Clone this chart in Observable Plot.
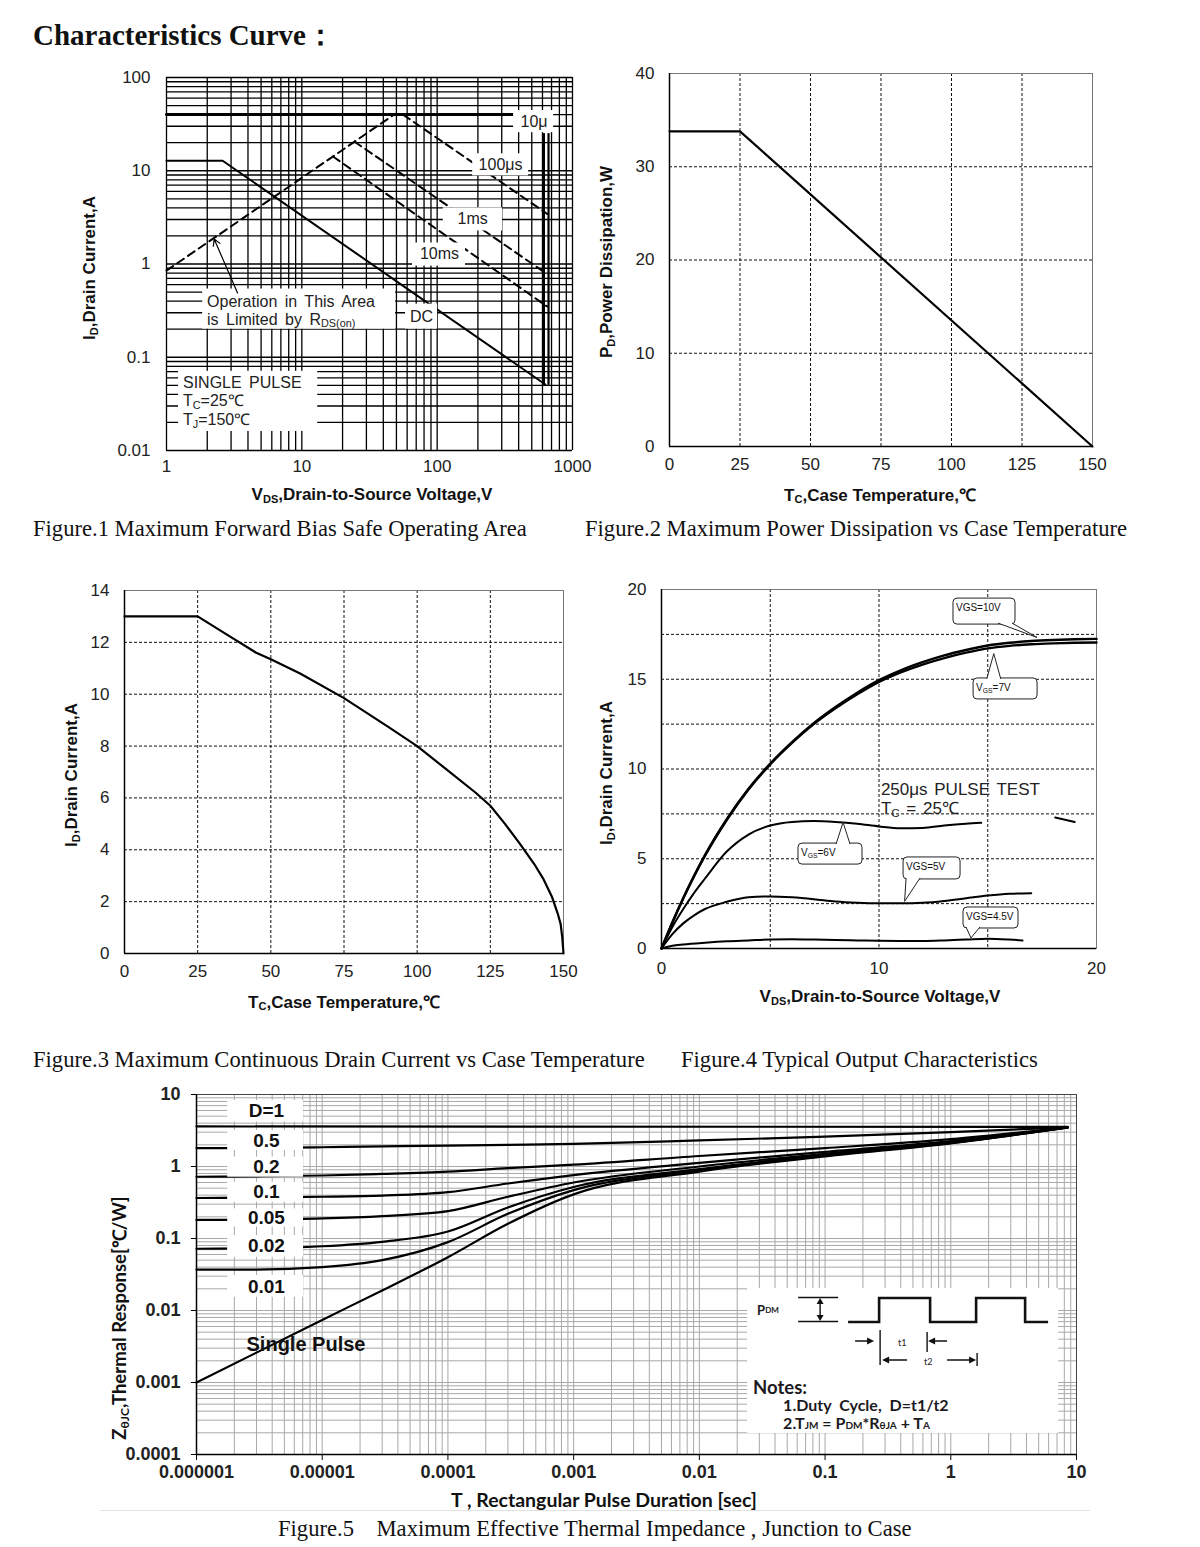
<!DOCTYPE html>
<html><head><meta charset="utf-8">
<script src="https://cdn.jsdelivr.net/npm/d3@7"></script>
<script src="https://cdn.jsdelivr.net/npm/@observablehq/plot@0.6"></script>
<style>
body{margin:0;background:#fff;}
#page{position:relative;width:1200px;height:1547px;overflow:hidden;background:#fff;font-family:"Liberation Sans",Arial,sans-serif;color:#111;}
.abs{position:absolute;white-space:nowrap;line-height:1;}
.title{left:33px;top:16px;font:bold 29px "Liberation Serif","Times New Roman",serif;}
.cap{font:22.6px "Liberation Serif","Times New Roman",serif;white-space:pre;}
.at{font:bold 17px "Liberation Sans",Arial,sans-serif;transform:translate(-50%,-50%);}
.atr{font:bold 17px "Liberation Sans",Arial,sans-serif;transform:translate(-50%,-50%) rotate(-90deg);}
.at5{font:bold 19.5px Lato,"Liberation Sans",sans-serif;transform:translate(-50%,-50%);}
.atr5{font:bold 18.5px Lato,"Liberation Sans",sans-serif;transform:translate(-50%,-50%) rotate(-90deg);}
sub{font-size:0.65em;vertical-align:-0.25em;line-height:0;}
</style></head>
<body><div id="page">
<div class="abs title">Characteristics Curve：</div>
<div class="abs cap" style="left:33px;top:516px">Figure.1 Maximum Forward Bias Safe Operating Area</div>
<div class="abs cap" style="left:585px;top:516px">Figure.2 Maximum Power Dissipation vs Case Temperature</div>
<div class="abs cap" style="left:33px;top:1047px">Figure.3 Maximum Continuous Drain Current vs Case Temperature</div>
<div class="abs cap" style="left:681px;top:1047px">Figure.4 Typical Output Characteristics</div>
<div class="abs cap" style="left:278px;top:1516px">Figure.5    Maximum Effective Thermal Impedance , Junction to Case</div>
<div class="abs at" style="left:372px;top:495px">V<sub>DS</sub>,Drain-to-Source Voltage,V</div>
<div class="abs atr" style="left:90px;top:268px">I<sub>D</sub>,Drain Current,A</div>
<div class="abs at" style="left:880px;top:494px">T<sub>C</sub>,Case Temperature,℃</div>
<div class="abs atr" style="left:607px;top:262px">P<sub>D</sub>,Power Dissipation,W</div>
<div class="abs at" style="left:344px;top:1001px">T<sub>C</sub>,Case Temperature,℃</div>
<div class="abs atr" style="left:72px;top:775px">I<sub>D</sub>,Drain Current,A</div>
<div class="abs at" style="left:880px;top:997px">V<sub>DS</sub>,Drain-to-Source Voltage,V</div>
<div class="abs atr" style="left:607px;top:773px">I<sub>D</sub>,Drain Current,A</div>
<div class="abs at5" style="left:604px;top:1499px">T , Rectangular Pulse Duration [sec]</div>
<div class="abs atr5" style="left:118px;top:1318px">Z<sub>θJC</sub>,Thermal Response[℃/W]</div>
<div class="abs" style="left:100px;top:1510px;width:990px;height:1px;background:#e2e2e2"></div>
</div>
<script>
// ---------------- DATA ----------------
// Fig.1 Safe operating area (VDS in V, ID in A)
const soaDC    = [{v:1, i:12.8}, {v:2.6, i:12.8}, {v:630, i:0.051}];
const soaRds   = [{v:1, i:0.85}, {v:48, i:40}, {v:56, i:40}];
const soa100us = [{v:56, i:40}, {v:650, i:3.45}];
const soa1ms   = [{v:24.5, i:20.5}, {v:650, i:0.78}];
const soa10ms  = [{v:17, i:14.2}, {v:650, i:0.35}];
const soa10us  = [{v:1, i:40}, {v:650, i:40}];
const soaVmax  = [{v:615, lo:0.05, hi:25}, {v:665, lo:0.05, hi:25}];
const soaXTicks = [1, 10, 100, 1000];
const soaYTicks = [0.01, 0.1, 1, 10, 100];
const soaTags = [
  {t:"10μ", v:520, i:33.7}, {t:"100μs", v:294, i:11.6}, {t:"1ms", v:183, i:3.05},
  {t:"10ms", v:104, i:1.28}, {t:"DC", v:76.7, i:0.269}
];
const soaTagBoxes = [
  {x1:367, x2:725, y1:25.6, y2:44.2}, {x1:183, x2:474, y1:8.8, y2:15.2},
  {x1:111, x2:304, y1:2.26, y2:4.0}, {x1:65.8, x2:162, y1:0.95, y2:1.68},
  {x1:58.4, x2:100.7, y1:0.2, y2:0.371}, {x1:1.85, x2:49.3, y1:0.2, y2:0.539},
  {x1:1.227, x2:13.1, y1:0.016, y2:0.0707}
];
const soaNotes = [
  {parts:[["Operation in This Area"]], v:2.01, i:0.40},
  {parts:[["is Limited by R"],["DS(on)","sub"]], v:2.01, i:0.256},
  {parts:[["SINGLE PULSE"]], v:1.335, i:0.0538},
  {parts:[["T"],["C","sub"],["=25℃"]], v:1.335, i:0.0345},
  {parts:[["T"],["J","sub"],["=150℃"]], v:1.335, i:0.0216}
];
const soaArrow = [{x1:3.35, y1:0.49, x2:2.25, y2:1.85}];

// Fig.2 Power dissipation
const pdTemp = [0, 25, 150];
const pdWatt = [33.8, 33.8, 0];
const tempTicks = [0, 25, 50, 75, 100, 125, 150];
const pdTicks = [0, 10, 20, 30, 40];

// Fig.3 Continuous drain current
const idTemp = [0,25,35,45,50,60,75,90,100,110,120,125,130,135,140,143,146,148,149,149.6,150];
const idAmp  = [13,13,12.3,11.6,11.35,10.8,9.85,8.75,8.0,7.1,6.2,5.7,5.0,4.25,3.45,2.9,2.2,1.55,1.15,0.6,0];
const idTicks = [0, 2, 4, 6, 8, 10, 12, 14];

// Fig.4 Output characteristics
const vds10 = [0,0.5,1,1.5,2,3,4,5,6,7,8,9,10,11,12,13,14,15,16,17,18,19,20];
const id10V = [0,1.45,2.8,4.05,5.2,7.2,8.9,10.3,11.5,12.55,13.45,14.25,14.95,15.5,15.95,16.33,16.63,16.88,17.03,17.13,17.19,17.23,17.25];
const id7V  = [0,1.45,2.8,4.03,5.17,7.16,8.86,10.26,11.45,12.5,13.38,14.16,14.85,15.38,15.82,16.18,16.48,16.72,16.86,16.95,17.0,17.03,17.05];
const vds6  = [0,0.5,1,1.5,2,3,4,5,6,7,8,9,10,11,12,13,14,14.7];
const id6V  = [0,1.2,2.2,3.1,3.9,5.4,6.35,6.85,7.05,7.1,7.05,6.95,6.8,6.7,6.72,6.85,6.95,7.0];
const vds5  = [0,0.5,1,1.5,2,3,4,5,6,7,8,9,10,11,12,13,14,15,16,17];
const id5V  = [0,0.8,1.4,1.85,2.2,2.6,2.85,2.9,2.85,2.75,2.62,2.55,2.52,2.52,2.55,2.65,2.8,2.95,3.05,3.08];
const vds45 = [0,0.5,1,2,3,4,5,6,7,8,9,10,11,12,13,14,15,16,16.6];
const id45V = [0,0.15,0.22,0.32,0.4,0.45,0.5,0.52,0.5,0.47,0.45,0.43,0.42,0.42,0.45,0.5,0.55,0.5,0.45];
const strayV = [18.1, 19.0];
const strayI = [7.3, 7.05];
const vdsTicks = [0, 10, 20];
const id4Ticks = [0, 5, 10, 15, 20];
const callouts = [
  {label:[["VGS=10V"]], x:14.85, y:18.77, tx:17.29, ty:17.3, w:62, h:26},
  {label:[["V"],["GS","sub"],["=7V"]], x:15.82, y:14.46, tx:15.3, ty:16.4, w:64, h:21},
  {label:[["V"],["GS","sub"],["=6V"]], x:7.77, y:5.26, tx:8.37, ty:7.0, w:64, h:21},
  {label:[["VGS=5V"]], x:12.44, y:4.46, tx:11.2, ty:2.6, w:57, h:22},
  {label:[["VGS=4.5V"]], x:15.15, y:1.70, tx:14.25, ty:0.56, w:55, h:21}
];
const pulseNotes = [
  {parts:[["250μs PULSE TEST"]], v:10.11, i:8.86},
  {parts:[["T"],["C","sub"],[" = 25℃"]], v:10.11, i:7.8}
];

// Fig.5 Transient thermal impedance
const pulseT  = [1e-6, 3e-6, 1e-5, 3e-5, 1e-4, 3e-4, 1e-3, 1e-2, 1e-1, 1, 8.5];
const zD05    = [1.8, 1.81, 1.85, 1.9, 1.95, 2.0, 2.06, 2.3, 2.6, 3.0, 3.5];
const zD02    = [0.72, 0.73, 0.75, 0.79, 0.85, 0.95, 1.06, 1.4, 1.8, 2.4, 3.5];
const zD01    = [0.365, 0.37, 0.38, 0.395, 0.44, 0.58, 0.76, 1.12, 1.6, 2.25, 3.5];
const zD005   = [0.181, 0.183, 0.19, 0.205, 0.24, 0.38, 0.6, 1.0, 1.5, 2.2, 3.5];
const zD002   = [0.072, 0.073, 0.078, 0.09, 0.125, 0.27, 0.52, 0.92, 1.45, 2.15, 3.5];
const zD001   = [0.037, 0.037, 0.04, 0.05, 0.089, 0.22, 0.47, 0.88, 1.42, 2.12, 3.5];
const zSingle = [0.001, 0.0026, 0.0074, 0.019, 0.055, 0.16, 0.41, 0.85, 1.38, 2.1, 3.5];
const zD1T = [1e-6, 8.5];
const zD1  = [3.6, 3.55];
const tTicks = [1e-6, 1e-5, 1e-4, 1e-3, 1e-2, 1e-1, 1, 10];
const zTicks = [1e-4, 1e-3, 1e-2, 0.1, 1, 10];
const dutyTags = [
  {t:"D=1", z:5.84}, {t:"0.5", z:2.3}, {t:"0.2", z:0.98}, {t:"0.1", z:0.44},
  {t:"0.05", z:0.193}, {t:"0.02", z:0.078}, {t:"0.01", z:0.0216}
];
const dutyBoxes = [
  {y1:4.13, y2:8.25}, {y1:1.67, y2:3.16}, {y1:0.71, y2:1.35}, {y1:0.319, y2:0.605},
  {y1:0.144, y2:0.258}, {y1:0.055, y2:0.11}, {y1:0.0153, y2:0.0306}
];
const dutyTagX = 3.6e-6, dutyBoxX = [1.77e-6, 7.1e-6];
const singleTag = {t:"Single Pulse", x:2.5e-6, z:0.00337};
const notesBox = {x1:0.0242, x2:7.2, y1:0.000196, y2:0.0202};

// ---------------- HELPERS ----------------
const FONT = "'Liberation Sans', Arial, sans-serif";
const page = document.getElementById("page");
const baseStyle = {fontFamily: FONT, fontSize: "17px", color: "#222", background: "transparent", overflow: "visible"};
function logGrid(lo, hi) {
  const out = [];
  for (let e = Math.round(Math.log10(lo)); e < Math.round(Math.log10(hi)); e++)
    for (let m = 1; m < 10; m++) out.push(+(m * Math.pow(10, e)).toPrecision(6));
  out.push(hi);
  return out;
}
function place(svg, left, top) {
  svg.style.position = "absolute"; svg.style.left = left + "px"; svg.style.top = top + "px";
  page.appendChild(svg); return svg;
}
function zip(xs, ys, name) { return xs.map((x, k) => ({x, y: ys[k], s: name})); }
function rich(svg, plot, xv, yv, parts, o = {}) {
  const size = o.size || 15;
  const t = d3.select(svg).append("text")
    .attr("x", plot.scale("x").apply(xv) + (o.dx || 0))
    .attr("y", plot.scale("y").apply(yv) + (o.dy || 0))
    .attr("font-size", size).attr("fill", o.fill || "#222")
    .attr("font-weight", o.weight || "normal")
    .attr("font-family", o.family || FONT)
    .attr("text-anchor", o.anchor || "start")
    .attr("dominant-baseline", "central");
  if (o.ws) t.style("word-spacing", o.ws);
  let shifted = false;
  for (const [s, kind] of parts) {
    const sp = t.append("tspan").text(s);
    if (kind === "sub") {
      sp.attr("font-size", size * 0.68);
      if (!shifted) { sp.attr("dy", size * 0.3); shifted = true; }
    } else if (shifted) { sp.attr("dy", -size * 0.3); shifted = false; }
  }
  return t;
}
const dashGrid = {stroke: "#111", strokeWidth: 1, strokeDasharray: "3,2"};
const ax = (o) => ({label: null, tickSize: 0, fontSize: 17, ...o});

// ---------------- FIG 1 ----------------
const fig1 = place(Plot.plot({
  width: 540, height: 460, marginLeft: 106, marginRight: 28, marginTop: 22, marginBottom: 65,
  style: baseStyle,
  x: {type: "log", domain: [1, 1000], label: null},
  y: {type: "log", domain: [0.01, 100], label: null},
  marks: [
    Plot.ruleX(logGrid(1, 1000), {stroke: "#000", strokeWidth: 1.3}),
    Plot.ruleY(logGrid(0.01, 100), {stroke: "#000", strokeWidth: 1.3}),
    Plot.line(soa10us, {x: "v", y: "i", stroke: "#000", strokeWidth: 3}),
    Plot.line(soaDC, {x: "v", y: "i", stroke: "#000", strokeWidth: 2}),
    Plot.line(soaRds, {x: "v", y: "i", stroke: "#000", strokeWidth: 2, strokeDasharray: "8,5"}),
    Plot.line(soa100us, {x: "v", y: "i", stroke: "#000", strokeWidth: 2, strokeDasharray: "8,5"}),
    Plot.line(soa1ms, {x: "v", y: "i", stroke: "#000", strokeWidth: 2, strokeDasharray: "8,5"}),
    Plot.line(soa10ms, {x: "v", y: "i", stroke: "#000", strokeWidth: 2, strokeDasharray: "8,5"}),
    Plot.ruleX(soaVmax, {x: "v", y1: "lo", y2: "hi", stroke: "#000", strokeWidth: 2.2}),
    Plot.rect(soaTagBoxes, {x1: "x1", x2: "x2", y1: "y1", y2: "y2", fill: "white"}),
    Plot.text(soaTags, {x: "v", y: "i", text: "t", fontSize: 16, fill: "#222"}),
    Plot.arrow(soaArrow, {x1: "x1", y1: "y1", x2: "x2", y2: "y2", stroke: "#000", strokeWidth: 1.2, headLength: 9}),
    Plot.axisX(ax({ticks: soaXTicks, tickPadding: 9, tickFormat: d => String(d)})),
    Plot.axisY(ax({ticks: soaYTicks, tickPadding: 16, tickFormat: d => String(d)}))
  ]
}), 60, 55);
for (const n of soaNotes) rich(fig1, fig1, n.v, n.i, n.parts, {size: 16, ws: "3px"});

// ---------------- FIG 2 ----------------
place(Plot.plot({
  width: 540, height: 460, marginLeft: 79, marginRight: 38, marginTop: 18, marginBottom: 69,
  style: baseStyle,
  x: {domain: [0, 150], label: null}, y: {domain: [0, 40], label: null},
  marks: [
    Plot.ruleX([25, 50, 75, 100, 125], dashGrid),
    Plot.ruleY([10, 20, 30], dashGrid),
    Plot.frame({stroke: "#777"}),
    Plot.ruleX([0], {stroke: "#000", strokeWidth: 1.5}),
    Plot.ruleY([0], {stroke: "#000", strokeWidth: 1.5}),
    Plot.line(zip(pdTemp, pdWatt, "pd"), {x: "x", y: "y", stroke: "#000", strokeWidth: 2.2}),
    Plot.axisX(ax({ticks: tempTicks, tickPadding: 11})),
    Plot.axisY(ax({ticks: pdTicks, tickPadding: 15}))
  ]
}), 590, 55);

// ---------------- FIG 3 ----------------
place(Plot.plot({
  width: 560, height: 460, marginLeft: 84, marginRight: 37, marginTop: 20, marginBottom: 77,
  style: baseStyle,
  x: {domain: [0, 150], label: null}, y: {domain: [0, 14], label: null},
  marks: [
    Plot.ruleX([25, 50, 75, 100, 125], dashGrid),
    Plot.ruleY([2, 4, 6, 8, 10, 12], dashGrid),
    Plot.frame({stroke: "#777"}),
    Plot.ruleX([0], {stroke: "#000", strokeWidth: 1.5}),
    Plot.ruleY([0], {stroke: "#000", strokeWidth: 1.5}),
    Plot.line(zip(idTemp, idAmp, "id"), {x: "x", y: "y", stroke: "#000", strokeWidth: 2.2}),
    Plot.axisX(ax({ticks: tempTicks, tickPadding: 11})),
    Plot.axisY(ax({ticks: idTicks, tickPadding: 15}))
  ]
}), 40, 570);

// ---------------- FIG 4 ----------------
const fig4 = place(Plot.plot({
  width: 540, height: 460, marginLeft: 61, marginRight: 44, marginTop: 19, marginBottom: 82,
  style: baseStyle,
  x: {domain: [0, 20], label: null}, y: {domain: [0, 20], label: null},
  marks: [
    Plot.ruleX([5, 10, 15], dashGrid),
    Plot.ruleY([2.5, 5, 7.5, 10, 12.5, 15, 17.5], dashGrid),
    Plot.frame({stroke: "#777"}),
    Plot.ruleX([0], {stroke: "#000", strokeWidth: 1.5}),
    Plot.ruleY([0], {stroke: "#000", strokeWidth: 1.5}),
    Plot.line([...zip(vds10, id10V, "10V"), ...zip(vds10, id7V, "7V")], {x: "x", y: "y", z: "s", stroke: "#000", strokeWidth: 2.4, curve: "monotone-x"}),
    Plot.line([...zip(vds6, id6V, "6V"), ...zip(vds5, id5V, "5V"), ...zip(vds45, id45V, "4.5V")], {x: "x", y: "y", z: "s", stroke: "#000", strokeWidth: 2, curve: "monotone-x"}),
    Plot.line(zip(strayV, strayI, "stray"), {x: "x", y: "y", stroke: "#000", strokeWidth: 2}),
    Plot.axisX(ax({ticks: vdsTicks, tickPadding: 13})),
    Plot.axisY(ax({ticks: id4Ticks, tickPadding: 15}))
  ]
}), 600, 570);
for (const c of callouts) {
  const sx = fig4.scale("x"), sy = fig4.scale("y");
  const cx = sx.apply(c.x), cy = sy.apply(c.y), x0 = cx - c.w / 2, y0 = cy - c.h / 2;
  const tx = sx.apply(c.tx), ty = sy.apply(c.ty);
  const g = d3.select(fig4).append("g");
  g.append("rect").attr("x", x0).attr("y", y0).attr("width", c.w).attr("height", c.h).attr("rx", 4)
    .attr("fill", "white").attr("stroke", "#222").attr("stroke-width", 1);
  const edgeY = ty < y0 ? y0 + 1 : y0 + c.h - 1;
  const bx = Math.max(x0 + 10, Math.min(x0 + c.w - 10, tx));
  g.append("path").attr("d", `M${bx - 7},${edgeY}L${tx},${ty}L${bx + 7},${edgeY}`)
    .attr("fill", "white").attr("stroke", "#222").attr("stroke-width", 1);
  rich(fig4, fig4, c.x, c.y, c.label, {size: 10, dx: -c.w / 2 + 3, dy: -c.h / 2 + 9, fill: "#111"});
}
for (const n of pulseNotes) rich(fig4, fig4, n.v, n.i, n.parts, {size: 17, fill: "#222", ws: "2px"});

// ---------------- FIG 5 ----------------
const zSeries = [
  ...zip(zD1T, zD1, "1"), ...zip(pulseT, zD05, "0.5"), ...zip(pulseT, zD02, "0.2"),
  ...zip(pulseT, zD01, "0.1"), ...zip(pulseT, zD005, "0.05"), ...zip(pulseT, zD002, "0.02"),
  ...zip(pulseT, zD001, "0.01"), ...zip(pulseT, zSingle, "single")
];
const fig5 = place(Plot.plot({
  width: 1000, height: 420, marginLeft: 96, marginRight: 24, marginTop: 19, marginBottom: 41,
  style: baseStyle,
  x: {type: "log", domain: [1e-6, 10], label: null},
  y: {type: "log", domain: [1e-4, 10], label: null},
  marks: [
    Plot.ruleX(logGrid(1e-6, 10), {stroke: "#a8a8a8", strokeWidth: 1}),
    Plot.ruleY(logGrid(1e-4, 10), {stroke: "#a8a8a8", strokeWidth: 1}),
    Plot.frame({stroke: "#444"}),
    Plot.ruleX([1e-6], {stroke: "#000", strokeWidth: 1.5}),
    Plot.ruleY([1e-4], {stroke: "#000", strokeWidth: 1.5}),
    Plot.line(zSeries, {x: "x", y: "y", z: "s", stroke: "#000", strokeWidth: 2.2, curve: "monotone-x"}),
    Plot.rect(dutyBoxes, {x1: () => dutyBoxX[0], x2: () => dutyBoxX[1], y1: "y1", y2: "y2", fill: "white"}),
    Plot.text(dutyTags, {x: () => dutyTagX, y: "z", text: "t", fontSize: 19, fontWeight: "bold", fill: "#111"}),
    Plot.text([singleTag], {x: "x", y: "z", text: "t", fontSize: 20, fontWeight: "bold", fill: "#111", textAnchor: "start"}),
    Plot.rect([notesBox], {x1: "x1", x2: "x2", y1: "y1", y2: "y2", fill: "white"}),
    Plot.axisX({label: null, ticks: tTicks, tickSize: 6, tickPadding: 5, tickFormat: d => String(d), fontSize: 18, fontWeight: "bold", stroke: "#000"}),
    Plot.axisY({label: null, ticks: zTicks, tickSize: 5, tickPadding: 11, tickFormat: d => String(d), fontSize: 18, fontWeight: "bold", stroke: "#000"})
  ]
}), 100, 1075);
(function drawNotes() {
  const ox = fig5.scale("x").apply(notesBox.x1), oy = fig5.scale("y").apply(notesBox.y2);
  const g = d3.select(fig5).append("g").attr("transform", `translate(${ox},${oy})`).attr("text-anchor", "start");
  const ink = "#111";
  // pulse train illustration
  g.append("path").attr("d", "M101,34H132V10H183V34H229V10H278V34H301").attr("fill", "none").attr("stroke", ink).attr("stroke-width", 2.6);
  g.append("path").attr("d", "M51,9.5H91M51,33.5H91M73,13V30M108,53H121M200,53H186M160,72H141M200,72H223M133,42V77M180,44V64M230,65V78")
    .attr("fill", "none").attr("stroke", ink).attr("stroke-width", 1.4);
  g.append("path").attr("d", "M73,10l-3.5,6h7zM73,33l-3.5,-6h7zM127,53l-7,-3.5v7zM181,53l7,-3.5v7zM135,72l7,-3.5v7zM229,72l-7,-3.5v7z").attr("fill", ink);
  const tx = (x, y, size, weight) => g.append("text").attr("x", x).attr("y", y).attr("font-size", size)
    .attr("font-weight", weight).attr("font-family", "Lato, 'Liberation Sans', sans-serif").attr("fill", "#1c1a22")
    .attr("text-anchor", "start").attr("dominant-baseline", "central");
  const pdm = tx(10, 22, 13, "bold"); pdm.append("tspan").text("P"); pdm.append("tspan").attr("font-size", 8).text("DM");
  tx(151, 54, 9, "normal").text("t1");
  tx(177, 73, 9, "normal").text("t2");
  tx(6, 99, 18.5, "bold").text("Notes:");
  tx(36, 116, 16, "bold").style("word-spacing", "4px").text("1.Duty Cycle, D=t1/t2");
  const n2 = tx(36, 134, 16, "bold");
  n2.append("tspan").text("2.T"); n2.append("tspan").attr("font-size", 10).attr("dy", 3).text("JM");
  n2.append("tspan").attr("dy", -3).text(" = P"); n2.append("tspan").attr("font-size", 10).attr("dy", 3).text("DM");
  n2.append("tspan").attr("dy", -3).text("*R"); n2.append("tspan").attr("font-size", 10).attr("dy", 3).text("θJA");
  n2.append("tspan").attr("dy", -3).text(" + T"); n2.append("tspan").attr("font-size", 10).attr("dy", 3).text("A");
})();
</script>
</body></html>
